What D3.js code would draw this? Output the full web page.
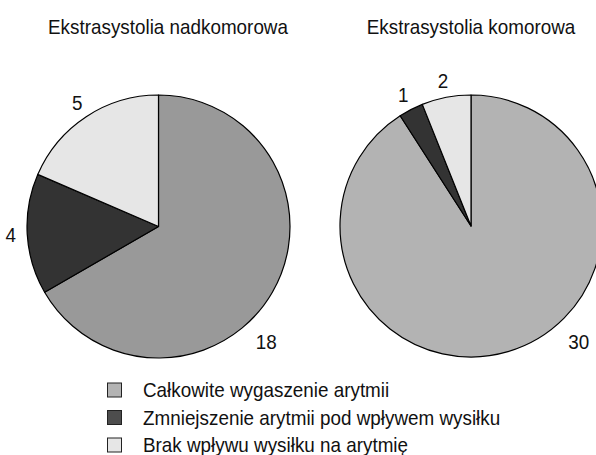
<!DOCTYPE html>
<html><head><meta charset="utf-8">
<script src="https://cdn.jsdelivr.net/npm/d3@7"></script>
<style>
html,body{margin:0;padding:0;background:#fff;}
text{font-family:"Liberation Sans Narrow","Liberation Sans",Arial,sans-serif;fill:#111;}
</style></head>
<body><svg id="c" width="596" height="455"></svg>
<script>
const categories = ["Całkowite wygaszenie arytmii","Zmniejszenie arytmii pod wpływem wysiłku","Brak wpływu wysiłku na arytmię"];
const titles = ["Ekstrasystolia nadkomorowa","Ekstrasystolia komorowa"];
const supraValues = [18, 4, 5];
const ventValues = [30, 1, 2];

const svg = d3.select("#c");
const SX = 0.92; // horizontal condensing to mimic narrow font
const fills = [["#999999","#333333","#e6e6e6"],["#b3b3b3","#333333","#e6e6e6"]];
const legendFills = ["#b3b3b3","#4d4d4d","#e6e6e6"];
const panels = [
  {values: supraValues, cx: 158.5, cy: 226.5, r: 131.5, tx: 168, fills: fills[0]},
  {values: ventValues, cx: 471, cy: 226, r: 131, tx: 471, fills: fills[1]}
];
const pie = d3.pie().sort(null);
function ctext(sel, x, y) {
  return sel.attr("transform", `translate(${x},${y}) scale(${SX},1)`);
}
panels.forEach((p, i) => {
  const g = svg.append("g").attr("transform", `translate(${p.cx},${p.cy})`);
  const arcs = pie(p.values);
  const arc = d3.arc().innerRadius(0).outerRadius(p.r);
  g.selectAll("path").data(arcs).enter().append("path")
    .attr("d", arc).attr("fill", (d, j) => p.fills[j])
    .attr("stroke", "#000").attr("stroke-width", 1.2).attr("stroke-linejoin","round");
  g.selectAll("text.lbl").data(arcs).enter().append("text").attr("class","lbl")
    .attr("text-anchor","middle").attr("dominant-baseline","central")
    .style("font-size","20.5px")
    .each(function(d) {
      let a = (d.startAngle + d.endAngle) / 2;
      let rr = 148;
      if (d.endAngle - d.startAngle > Math.PI) { a = 137 * Math.PI / 180; rr = 158; }
      ctext(d3.select(this), rr * Math.sin(a), -rr * Math.cos(a));
    })
    .text(d => d.data);
  ctext(svg.append("text"), p.tx, 34).attr("text-anchor","middle")
    .style("font-size","20.5px").text(titles[i]);
});
const lg = svg.append("g");
categories.forEach((c, i) => {
  const y = 390 + i * 27.5;
  lg.append("rect").attr("x", 107.5).attr("y", y - 7).attr("width", 14).attr("height", 14)
    .attr("fill", legendFills[i]).attr("stroke", "#222").attr("stroke-width", 1);
  ctext(lg.append("text"), 143, y + 7).style("font-size","20.5px").text(c);
});
</script></body></html>
